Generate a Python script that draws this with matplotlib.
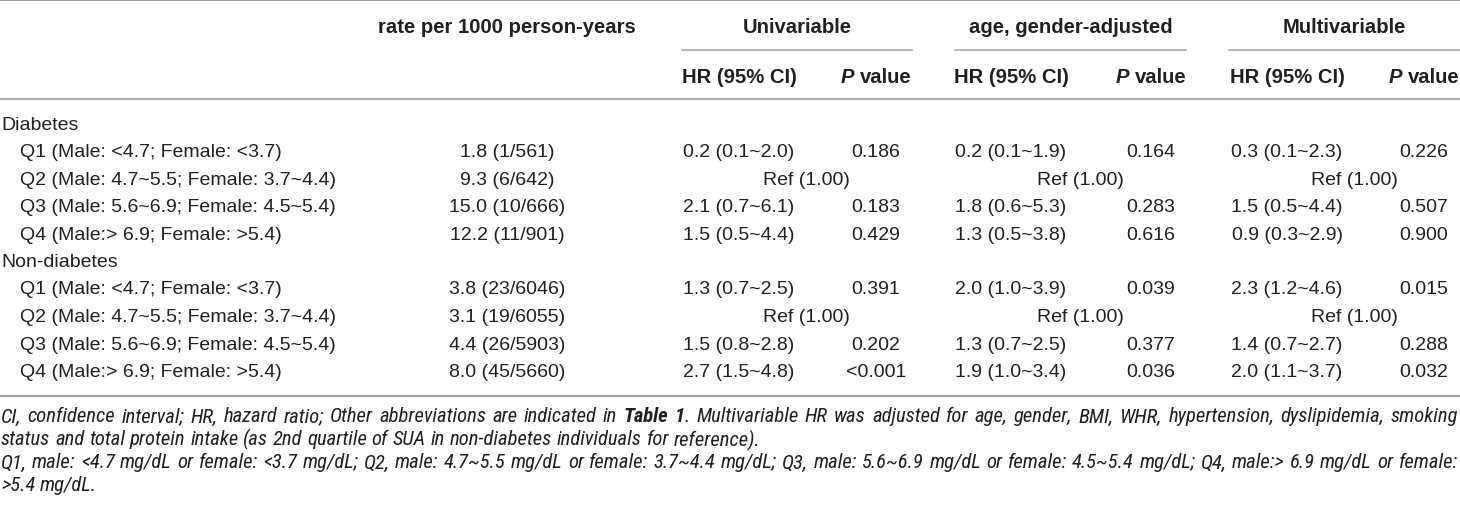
import matplotlib
matplotlib.use('Agg')
import matplotlib.pyplot as plt
from matplotlib import font_manager

plt.rcParams['font.family'] = ['Liberation Sans', 'DejaVu Sans']

# ---- table content ----
col_header_top = ["rate per 1000 person-years", "Univariable", "age, gender-adjusted", "Multivariable"]
groups = ["Diabetes", "Non-diabetes"]
quartiles = ["Q1 (Male: <4.7; Female: <3.7)",
             "Q2 (Male: 4.7~5.5; Female: 3.7~4.4)",
             "Q3 (Male: 5.6~6.9; Female: 4.5~5.4)",
             "Q4 (Male:> 6.9; Female: >5.4)"]

rate_diab = ["1.8 (1/561)", "9.3 (6/642)", "15.0 (10/666)", "12.2 (11/901)"]
rate_nondiab = ["3.8 (23/6046)", "3.1 (19/6055)", "4.4 (26/5903)", "8.0 (45/5660)"]

# None -> reference category
uni_hr_diab = ["0.2 (0.1~2.0)", None, "2.1 (0.7~6.1)", "1.5 (0.5~4.4)"]
uni_p_diab = ["0.186", None, "0.183", "0.429"]
age_hr_diab = ["0.2 (0.1~1.9)", None, "1.8 (0.6~5.3)", "1.3 (0.5~3.8)"]
age_p_diab = ["0.164", None, "0.283", "0.616"]
multi_hr_diab = ["0.3 (0.1~2.3)", None, "1.5 (0.5~4.4)", "0.9 (0.3~2.9)"]
multi_p_diab = ["0.226", None, "0.507", "0.900"]

uni_hr_nondiab = ["1.3 (0.7~2.5)", None, "1.5 (0.8~2.8)", "2.7 (1.5~4.8)"]
uni_p_nondiab = ["0.391", None, "0.202", "<0.001"]
age_hr_nondiab = ["2.0 (1.0~3.9)", None, "1.3 (0.7~2.5)", "1.9 (1.0~3.4)"]
age_p_nondiab = ["0.039", None, "0.377", "0.036"]
multi_hr_nondiab = ["2.3 (1.2~4.6)", None, "1.4 (0.7~2.7)", "2.0 (1.1~3.7)"]
multi_p_nondiab = ["0.015", None, "0.288", "0.032"]

ref_text = "Ref (1.00)"

# '**' toggles bold
footer_lines = [
    "CI, confidence interval; HR, hazard ratio; Other abbreviations are indicated in **Table 1**. "
    "Multivariable HR was adjusted for age, gender, BMI, WHR, hypertension, dyslipidemia, smoking",
    "status and total protein intake (as 2nd quartile of SUA in non-diabetes individuals for reference).",
    "Q1, male: <4.7 mg/dL or female: <3.7 mg/dL; Q2, male: 4.7~5.5 mg/dL or female: 3.7~4.4 mg/dL; "
    "Q3, male: 5.6~6.9 mg/dL or female: 4.5~5.4 mg/dL; Q4, male:> 6.9 mg/dL or female:",
    ">5.4 mg/dL.",
]
footer_justify = [True, False, True, False]

# ---- layout ----
W, H = 1460, 506
txt_col = '#231f20'
line_col = '#a3a3a3'
fs_body = 14
fs_head = 14.6

installed = {f.name for f in font_manager.fontManager.ttflist}
foot_family = ['Liberation Sans', 'DejaVu Sans']
for cand in ['Liberation Sans Narrow', 'Roboto Condensed', 'Open Sans Condensed', 'DejaVu Sans Condensed']:
    if cand in installed:
        foot_family = [cand, 'DejaVu Sans']
        break

fig = plt.figure(figsize=(W / 100, H / 100), dpi=100)
ax = fig.add_axes([0, 0, 1, 1])
ax.set_xlim(0, W)
ax.set_ylim(H, 0)
ax.axis('off')
renderer = fig.canvas.get_renderer()


def width_of(s, **kw):
    t = ax.text(0, 0, s, **kw)
    w = t.get_window_extent(renderer).width
    t.remove()
    return w


rate_x = 507
blocks = [  # (line start, line end, hr center, p center)
    (682, 912, 739, 876),
    (955, 1186, 1011, 1151),
    (1229, 1460, 1287, 1424),
]
y_head1, y_head2 = 27, 77
y_first = 125
dy = 27.5

# rules
ax.plot([0, W], [1, 1], color='#8c8c8c', lw=1.3)
for x0, x1, _, _ in blocks:
    ax.plot([x0, x1], [51, 51], color=line_col, lw=1.1)
ax.plot([0, W], [100, 100], color=line_col, lw=1.3)
ax.plot([0, W], [397, 397], color=line_col, lw=1.5)

# header
ax.text(rate_x, y_head1, col_header_top[0], ha='center', va='center',
        fontsize=fs_head, fontweight='bold', color=txt_col)
space_b = width_of("a a", fontsize=fs_head, fontweight='bold') - width_of("aa", fontsize=fs_head, fontweight='bold')
for (x0, x1, hx, px), title in zip(blocks, col_header_top[1:]):
    ax.text((x0 + x1) / 2, y_head1, title, ha='center', va='center',
            fontsize=fs_head, fontweight='bold', color=txt_col)
    ax.text(hx, y_head2, "HR (95% CI)", ha='center', va='center',
            fontsize=fs_head, fontweight='bold', color=txt_col)
    wp = width_of("P", fontsize=fs_head, fontweight='bold', fontstyle='italic')
    wv = width_of("value", fontsize=fs_head, fontweight='bold')
    start = px - (wp + space_b + wv) / 2
    ax.text(start, y_head2, "P", ha='left', va='center', fontsize=fs_head,
            fontweight='bold', fontstyle='italic', color=txt_col)
    ax.text(start + wp + space_b, y_head2, "value", ha='left', va='center',
            fontsize=fs_head, fontweight='bold', color=txt_col)

# body
group_data = [
    (rate_diab, [(uni_hr_diab, uni_p_diab), (age_hr_diab, age_p_diab), (multi_hr_diab, multi_p_diab)]),
    (rate_nondiab, [(uni_hr_nondiab, uni_p_nondiab), (age_hr_nondiab, age_p_nondiab),
                    (multi_hr_nondiab, multi_p_nondiab)]),
]
row = 0
for g, (rates, models) in zip(groups, group_data):
    y = y_first + dy * row
    ax.text(1, y, g, ha='left', va='center', fontsize=fs_body, color=txt_col)
    row += 1
    for i, q in enumerate(quartiles):
        y = y_first + dy * row
        ax.text(20, y, q, ha='left', va='center', fontsize=fs_body, color=txt_col)
        ax.text(rate_x, y, rates[i], ha='center', va='center', fontsize=fs_body, color=txt_col)
        for (x0, x1, hx, px), (hrs, ps) in zip(blocks, models):
            if hrs[i] is None:
                ax.text((hx + px) / 2 - 1, y, ref_text, ha='center', va='center',
                        fontsize=fs_body, color=txt_col)
            else:
                ax.text(hx, y, hrs[i], ha='center', va='center', fontsize=fs_body, color=txt_col)
                ax.text(px, y, ps[i], ha='center', va='center', fontsize=fs_body, color=txt_col)
        row += 1

# footer (italic, justified lines)
fs_foot = 14.9


def tokens(line):
    words = []
    bold = False
    for w in line.split(' '):
        segs = []
        parts = w.split('**')
        for k, p in enumerate(parts):
            if k > 0:
                bold = not bold
            if p:
                segs.append((p, bold))
        words.append(segs)
    return words


def seg_kw(b, fs):
    return dict(fontsize=fs, fontstyle='italic', fontweight='bold' if b else 'normal',
                color=txt_col, family=foot_family)


def word_width(segs, fs):
    return sum(width_of(s, **seg_kw(b, fs)) for s, b in segs)


# shrink font only if a justified line cannot fit
target = W - 2
sp = width_of("a a", **seg_kw(False, fs_foot)) - width_of("aa", **seg_kw(False, fs_foot))
for line, just in zip(footer_lines, footer_justify):
    if just:
        ws = tokens(line)
        nat = sum(word_width(s, fs_foot) for s in ws) + sp * (len(ws) - 1) * 0.85
        if nat > target:
            fs_foot *= target / nat
sp = width_of("a a", **seg_kw(False, fs_foot)) - width_of("aa", **seg_kw(False, fs_foot))

foot_y = [417, 440, 463, 486]
for line, just, y in zip(footer_lines, footer_justify, foot_y):
    ws = tokens(line)
    wws = [word_width(s, fs_foot) for s in ws]
    gap = (target - 1 - sum(wws)) / (len(ws) - 1) if just else sp
    x = 1
    for segs, ww in zip(ws, wws):
        xx = x
        for s, b in segs:
            ax.text(xx, y, s, ha='left', va='center', **seg_kw(b, fs_foot))
            xx += width_of(s, **seg_kw(b, fs_foot))
        x += ww + gap

fig.savefig('out.png', dpi=100)
